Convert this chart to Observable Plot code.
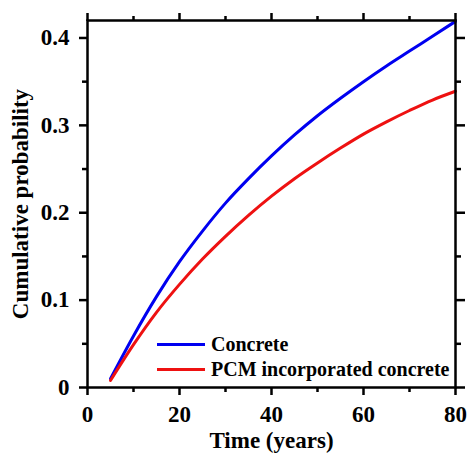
<!DOCTYPE html>
<html>
<head>
<meta charset="utf-8">
<script src="https://cdn.jsdelivr.net/npm/d3@7"></script>
<script src="https://cdn.jsdelivr.net/npm/@observablehq/plot@0.6"></script>
<style>
  html, body { margin: 0; padding: 0; background: #fff; }
  #wrap { position: relative; width: 467px; height: 461px; }
  #wrap svg text, #wrap svg { font-family: "Liberation Serif", "Times New Roman", "DejaVu Serif", serif !important; }
  #legend { position: absolute; left: 157px; top: 332px; font-family: "Liberation Serif", "Times New Roman", "DejaVu Serif", serif; font-weight: bold; font-size: 20px; color: #000; }
  .row { display: flex; align-items: center; height: 25px; }
  .sw { width: 48px; height: 3px; margin-right: 6px; }
</style>
</head>
<body>
<div id="wrap"><div id="legend"></div></div>
<script>
const years = [5, 10, 15, 20, 25, 30, 35, 40, 45, 50, 55, 60, 65, 70, 75, 80];
const concrete = [0.010, 0.059, 0.104, 0.144, 0.179, 0.211, 0.239, 0.265, 0.289, 0.311, 0.331, 0.350, 0.368, 0.385, 0.402, 0.419];
const pcm = [0.008, 0.049, 0.086, 0.118, 0.147, 0.173, 0.197, 0.219, 0.239, 0.257, 0.274, 0.290, 0.304, 0.317, 0.329, 0.339];
const seriesNames = ["Concrete", "PCM incorporated concrete"];
const seriesColors = ["#0000f0", "#ee1111"];
const xMajor = [0, 20, 40, 60, 80];
const xMinor = [10, 30, 50, 70];
const yMajor = [0, 0.1, 0.2, 0.3, 0.4];
const yMinor = [0.05, 0.15, 0.25, 0.35];

const data = [];
[concrete, pcm].forEach((vals, i) => {
  years.forEach((t, j) => data.push({t, p: vals[j], s: seriesNames[i]}));
});

const fmtY = d => d === 0 ? "0" : d.toFixed(1);
const blank = () => "";
const axisStyle = {stroke: "black", strokeWidth: 2.5};
const serif = "'Liberation Serif', 'Times New Roman', 'DejaVu Serif', serif";

const chart = Plot.plot({
  width: 467,
  height: 461,
  marginLeft: 87,
  marginRight: 12,
  marginTop: 20,
  marginBottom: 74,
  style: {fontFamily: serif, fontWeight: "bold", fontSize: "23px", color: "black", background: "white"},
  x: {domain: [0, 80]},
  y: {domain: [0, 0.42]},
  color: {domain: seriesNames, range: seriesColors},
  marks: [
    Plot.line(data, {x: "t", y: "p", stroke: "s", strokeWidth: 3, curve: "monotone-x"}),
    Plot.frame({stroke: "black", strokeWidth: 2.5}),
    Plot.axisX(xMajor, {anchor: "bottom", tickSize: 8, tickPadding: 10, tickFormat: d => String(d), label: "Time (years)", labelAnchor: "center", labelOffset: 60, labelArrow: "none", ...axisStyle, fontSize: 23, fontFamily: serif}),
    Plot.axisX(xMinor, {anchor: "bottom", tickSize: 5, tickFormat: blank, label: null, ...axisStyle}),
    Plot.axisX(xMajor, {anchor: "top", tickSize: 8, tickFormat: blank, label: null, ...axisStyle}),
    Plot.axisX(xMinor, {anchor: "top", tickSize: 5, tickFormat: blank, label: null, ...axisStyle}),
    Plot.axisY(yMajor, {anchor: "left", tickSize: 8, tickPadding: 10, tickFormat: fmtY, label: "Cumulative probability", labelAnchor: "center", labelOffset: 76, labelArrow: "none", ...axisStyle, fontSize: 23, fontFamily: serif}),
    Plot.axisY(yMinor, {anchor: "left", tickSize: 5, tickFormat: blank, label: null, ...axisStyle}),
    Plot.axisY(yMajor, {anchor: "right", tickSize: 9, tickFormat: blank, label: null, ...axisStyle}),
    Plot.axisY(yMinor, {anchor: "right", tickSize: 5, tickFormat: blank, label: null, ...axisStyle})
  ]
});
const wrap = document.getElementById("wrap");
wrap.insertBefore(chart, wrap.firstChild);

const legend = document.getElementById("legend");
seriesNames.forEach((name, i) => {
  const row = document.createElement("div");
  row.className = "row";
  const sw = document.createElement("div");
  sw.className = "sw";
  sw.style.background = seriesColors[i];
  const tx = document.createElement("span");
  tx.textContent = name;
  row.appendChild(sw);
  row.appendChild(tx);
  legend.appendChild(row);
});
</script>
</body>
</html>
